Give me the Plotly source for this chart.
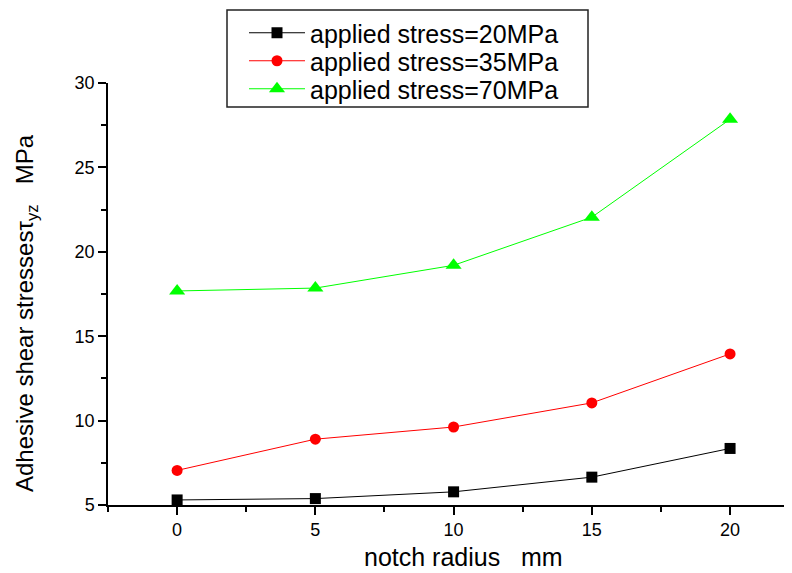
import plotly.graph_objects as go

notch_radius = [0, 5, 10, 15, 20]
stress_20 = [5.3, 5.38, 5.78, 6.65, 8.35]
stress_35 = [7.05, 8.9, 9.62, 11.05, 13.95]
stress_70 = [17.68, 17.85, 19.2, 22.05, 27.85]
series_names = ["applied stress=20MPa", "applied stress=35MPa", "applied stress=70MPa"]
x_title = "notch radius   mm"
y_title = "Adhesive shear stressesτ<sub>yz</sub>   MPa"

# page pixel -> paper coordinate helpers (plot area: x 108..792, y 83..505 on the page)
def px(p):
    return (p - 108) / 684

def py(p):
    return (505 - p) / 422

styles = [
    ("#000000", "square", 11),
    ("#ff0000", "circle", 11),
    ("#00ff00", "triangle-up", 14),
]
legend_ids = ["legend", "legend2", "legend3"]
row_centers = [33, 61, 89]

fig = go.Figure()
for name, ys, (color, sym, size), lid in zip(series_names, [stress_20, stress_35, stress_70], styles, legend_ids):
    fig.add_trace(go.Scatter(
        x=notch_radius, y=ys, name=name, mode="lines+markers", legend=lid,
        line=dict(color=color, width=1),
        marker=dict(symbol=sym, size=size, color=color, line=dict(width=0)),
    ))

font = "Liberation Sans, Arial, sans-serif"
legend_common = dict(
    xanchor="left", yanchor="middle", borderwidth=0, bgcolor="rgba(0,0,0,0)",
    font=dict(size=25, family=font, color="black"), itemwidth=56,
)

layout_legends = {}
for lid, yc in zip(legend_ids, row_centers):
    layout_legends[lid] = dict(x=px(244), y=py(yc), **legend_common)

fig.update_layout(
    width=784, height=565,
    margin=dict(l=100, r=0, t=75, b=68, autoexpand=False),
    paper_bgcolor="white", plot_bgcolor="white",
    font=dict(family=font, color="black"),
    showlegend=True,
    xaxis=dict(
        range=[-2.5, 22.24], tickvals=[0, 5, 10, 15, 20], automargin=False,
        showgrid=False, zeroline=False, showline=True, linecolor="black", linewidth=1.5,
        ticks="outside", ticklen=8, tickwidth=1.5, tickcolor="black",
        tickfont=dict(size=18),
        minor=dict(tickvals=[-2.5, 2.5, 7.5, 12.5, 17.5], ticks="outside", ticklen=5, tickwidth=1.5, tickcolor="black"),
    ),
    yaxis=dict(
        range=[5, 30], tickvals=[5, 10, 15, 20, 25, 30], automargin=False,
        showgrid=False, zeroline=False, showline=True, linecolor="black", linewidth=1.5,
        ticks="outside", ticklen=8, tickwidth=1.5, tickcolor="black",
        tickfont=dict(size=18),
        minor=dict(tickvals=[7.5, 12.5, 17.5, 22.5, 27.5], ticks="outside", ticklen=5, tickwidth=1.5, tickcolor="black"),
    ),
    shapes=[dict(
        type="rect", xref="paper", yref="paper",
        x0=px(227), x1=px(588), y0=py(107), y1=py(10),
        line=dict(color="#222222", width=1.5), fillcolor="white", layer="below",
    )],
    annotations=[
        dict(text=x_title, xref="paper", yref="paper", x=px(463), y=py(557),
             xanchor="center", yanchor="middle", showarrow=False,
             font=dict(size=25, family=font, color="black")),
        dict(text=y_title, xref="paper", yref="paper", x=px(26), y=py(313),
             xanchor="center", yanchor="middle", showarrow=False, textangle=-90,
             font=dict(size=24, family=font, color="black")),
    ],
    **layout_legends,
)

fig.write_html("out.html")
